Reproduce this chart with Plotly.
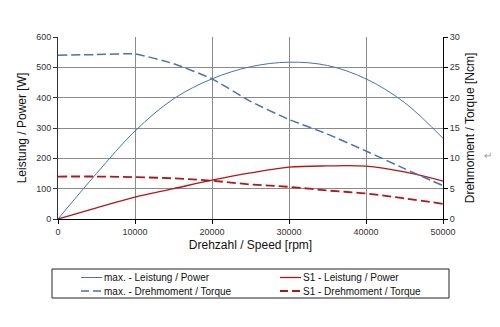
import plotly.graph_objects as go

# Motor characteristic: speed vs. power (left axis) and torque (right axis)
speed_rpm = [0, 5000, 10000, 15000, 20000, 25000, 30000, 35000, 40000, 45000, 50000]
max_power_w = [0, 150, 290, 396, 462, 502, 517, 506, 462, 384, 266]
s1_power_w = [0, 37, 72, 100, 128, 152, 171, 175, 174, 155, 125]
max_torque_ncm = [27.0, 27.1, 27.2, 25.6, 23.1, 19.4, 16.4, 14.0, 11.2, 8.3, 5.5]
s1_torque_ncm = [7.0, 7.0, 6.9, 6.7, 6.3, 5.7, 5.3, 4.7, 4.2, 3.4, 2.5]

legend_labels = [
    "max. - Leistung / Power",
    "S1 - Leistung / Power",
    "max. - Drehmoment / Torque",
    "S1 - Drehmoment / Torque",
]

BLUE = "#4a72b0"
RED = "#b01818"
FONT = "Liberation Sans, Arial, sans-serif"

W, H = 500, 327
L, R, T, B = 58, 57, 37, 108
PW, PH = W - L - R, H - T - B


def px(x):
    return (x - L) / PW


def py(y):
    return (H - B - y) / PH


fig = go.Figure()
fig.add_trace(go.Scatter(x=speed_rpm, y=max_power_w, mode="lines",
                         line=dict(color=BLUE, width=1, shape="spline", smoothing=1.0),
                         showlegend=False))
fig.add_trace(go.Scatter(x=speed_rpm, y=s1_power_w, mode="lines",
                         line=dict(color=RED, width=1.3, shape="spline", smoothing=1.0),
                         showlegend=False))
fig.add_trace(go.Scatter(x=speed_rpm, y=max_torque_ncm, mode="lines", yaxis="y2",
                         line=dict(color=BLUE, width=1.5, dash="9px,4px", shape="spline", smoothing=0.5),
                         showlegend=False))
fig.add_trace(go.Scatter(x=speed_rpm, y=s1_torque_ncm, mode="lines", yaxis="y2",
                         line=dict(color=RED, width=1.8, dash="9px,4px", shape="spline", smoothing=1.0),
                         showlegend=False))

tickfont = dict(family=FONT, size=9, color="#333333")
titlefont = dict(family=FONT, size=12, color="#111111")

fig.update_layout(
    width=W, height=H,
    margin=dict(l=L, r=R, t=T, b=B),
    paper_bgcolor="white", plot_bgcolor="white",
    showlegend=False,
    xaxis=dict(range=[0, 50000], dtick=10000, tickformat="d", showgrid=True,
               gridcolor="#8a8a8a", gridwidth=1,
               zeroline=False, showline=True, linecolor="#000000", linewidth=1,
               ticks="outside", ticklen=4, tickcolor="#000000", tickfont=tickfont,
               title=dict(text="Drehzahl / Speed [rpm]", font=titlefont, standoff=4)),
    yaxis=dict(range=[0, 600], dtick=100, showgrid=True, gridcolor="#8a8a8a", gridwidth=1,
               zeroline=False, showline=True, linecolor="#333333", linewidth=1,
               ticks="outside", ticklen=4, tickcolor="#333333", tickfont=tickfont,
               title=dict(text="Leistung / Power [W]", font=titlefont, standoff=6)),
    yaxis2=dict(range=[0, 30], dtick=5, overlaying="y", side="right", showgrid=False,
                zeroline=False, showline=True, linecolor="#000000", linewidth=1,
                ticks="outside", ticklen=4, tickcolor="#000000", tickfont=tickfont,
                title=dict(text="Drehmoment / Torque [Ncm]", font=titlefont, standoff=6)),
)

# Legend drawn as a framed box below the plot, two columns
shapes = [dict(type="rect", xref="paper", yref="paper",
               x0=px(52), x1=px(449), y0=py(298), y1=py(269),
               line=dict(color="#222222", width=1), fillcolor="white")]
annotations = []
entries = [
    (81, 277.5, BLUE, 1, "solid"),
    (280, 277.5, RED, 1.3, "solid"),
    (81, 291, BLUE, 1.5, "8px,4px"),
    (280, 291, RED, 1.8, "8px,4px"),
]
for (x0, y0, color, width, dash), label in zip(entries, legend_labels):
    shapes.append(dict(type="line", xref="paper", yref="paper",
                       x0=px(x0), x1=px(x0 + 21), y0=py(y0), y1=py(y0),
                       line=dict(color=color, width=width, dash=dash)))
    annotations.append(dict(xref="paper", yref="paper", x=px(x0 + 21), y=py(y0),
                            text=label, showarrow=False, xanchor="left", yanchor="middle",
                            font=dict(family=FONT, size=10, color="#111111")))

annotations.append(dict(xref="paper", yref="paper", x=px(488), y=py(155), text="↵",
                        showarrow=False, xanchor="center", yanchor="middle",
                        font=dict(family=FONT, size=10, color="#9a9a9a")))

fig.update_layout(shapes=shapes, annotations=annotations)

fig.write_html("out.html")
